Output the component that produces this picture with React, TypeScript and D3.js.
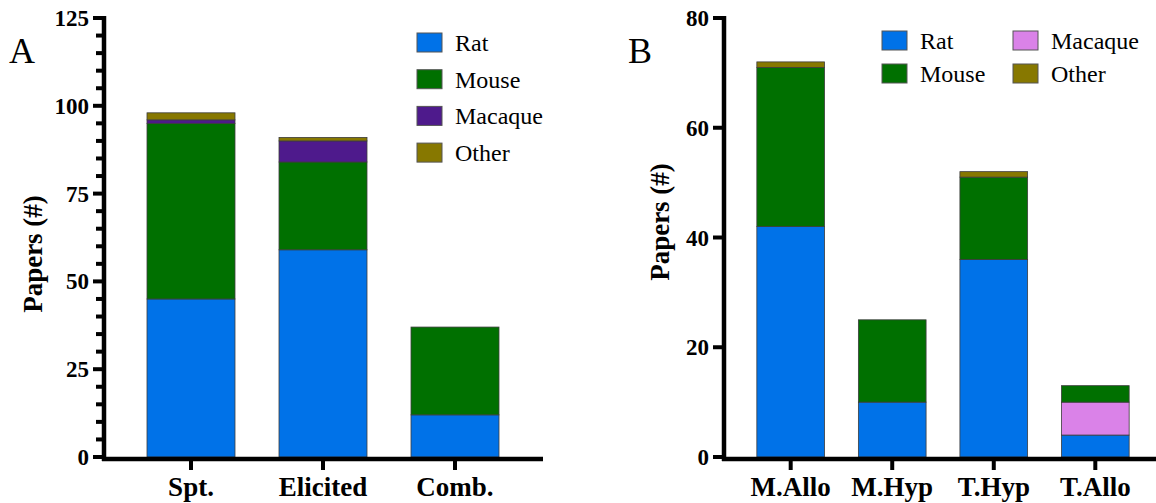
import React from 'react';
import * as d3 from 'd3';

// species order used for stacking (A and B stack differently)
const keysA = ['Rat', 'Mouse', 'Macaque', 'Other'];
const keysB = ['Rat', 'Macaque', 'Mouse', 'Other'];

const categoriesA = ['Spt.', 'Elicited', 'Comb.'];
const ratA = [45, 59, 12];
const mouseA = [50, 25, 25];
const macaqueA = [1, 6, 0];
const otherA = [2, 1, 0];
const ticksA = [0, 25, 50, 75, 100, 125];

const categoriesB = ['M.Allo', 'M.Hyp', 'T.Hyp', 'T.Allo'];
const ratB = [42, 10, 36, 4];
const mouseB = [29, 15, 15, 3];
const macaqueB = [0, 0, 0, 6];
const otherB = [1, 0, 1, 0];
const ticksB = [0, 20, 40, 60, 80];

const yTitle = 'Papers\u00A0(#)';

const SERIF = 'Liberation Serif';

const buildRows = (cats, rat, mouse, macaque, other) =>
  cats.map((c, i) => ({ cat: c, Rat: rat[i], Mouse: mouse[i], Macaque: macaque[i], Other: other[i] }));

const Panel = ({ rows, keys, colors, ticks, minorStep, yMax, xRange, letter, letterX, titleX, titleY, legend }) => {
  const y = d3.scaleLinear().domain([0, yMax]).range([457, 18]);
  const x = d3.scaleBand().domain(rows.map(r => r.cat)).range(xRange).padding(1 / 3);
  const series = d3.stack().keys(keys)(rows);
  const axisX = xRange[0] + 1;
  const minor = minorStep ? d3.range(0, yMax + 0.001, minorStep).filter(v => !ticks.includes(v)) : [];

  return (
    <g>
      <text x={letterX} y={63} fontFamily={SERIF} fontSize={36}>{letter}</text>

      {/* text first, marks after */}
      {ticks.map(t => (
        <text key={'l' + t} x={axisX - 15} y={y(t) + 8} textAnchor="end" fontFamily={SERIF} fontWeight="bold" fontSize={23}>{String(t)}</text>
      ))}
      {rows.map(r => (
        <text key={'c' + r.cat} x={x(r.cat) + x.bandwidth() / 2} y={496} textAnchor="middle" fontFamily={SERIF} fontWeight="bold" fontSize={27}>{r.cat}</text>
      ))}
      <text
        transform={`translate(${titleX},${titleY}) rotate(-90)`}
        textAnchor="middle"
        fontFamily={SERIF}
        fontWeight="bold"
        fontSize={27}
      >
        {yTitle}
      </text>
      {legend.map(l => (
        <text key={'t' + l.key} x={l.x + 38} y={l.y + 18} fontFamily={SERIF} fontSize={24}>{l.key}</text>
      ))}

      {series.map(s => (
        <g key={s.key} fill={colors[s.key]}>
          {s.filter(d => d[1] - d[0] > 0).map(d => (
            <rect
              key={d.data.cat}
              x={x(d.data.cat)}
              y={y(d[1])}
              width={x.bandwidth()}
              height={y(d[0]) - y(d[1])}
              stroke="#3c3c3c"
              strokeWidth={0.8}
            />
          ))}
        </g>
      ))}

      {/* y axis */}
      <line x1={axisX} x2={axisX} y1={y(yMax) - 2} y2={y(0) + 4} stroke="#000" strokeWidth={4.5} />
      {ticks.map(t => (
        <line key={t} x1={axisX - 11} x2={axisX} y1={y(t)} y2={y(t)} stroke="#000" strokeWidth={4} />
      ))}
      {minor.map(t => (
        <line key={'m' + t} x1={axisX - 8} x2={axisX} y1={y(t)} y2={y(t)} stroke="#000" strokeWidth={4} />
      ))}

      {/* x axis */}
      <line x1={axisX - 2} x2={xRange[1]} y1={y(0) + 2} y2={y(0) + 2} stroke="#000" strokeWidth={4.5} />
      {rows.map(r => {
        const cx = x(r.cat) + x.bandwidth() / 2;
        return <line key={r.cat} x1={cx} x2={cx} y1={y(0) + 2} y2={y(0) + 13} stroke="#000" strokeWidth={4} />;
      })}

      {legend.map(l => (
        <rect key={l.key} x={l.x} y={l.y} width={25} height={19} fill={colors[l.key]} stroke="#555" strokeWidth={1} />
      ))}
    </g>
  );
};

const App = () => {
  const rowsA = buildRows(categoriesA, ratA, mouseA, macaqueA, otherA);
  const rowsB = buildRows(categoriesB, ratB, mouseB, macaqueB, otherB);

  const colorsA = { Rat: '#0072E8', Mouse: '#007000', Macaque: '#4E1A8C', Other: '#877800' };
  const colorsB = { Rat: '#0072E8', Mouse: '#007000', Macaque: '#DA82E8', Other: '#877800' };

  const legendA = keysA.map((k, i) => ({ key: k, x: 417, y: 33 + i * 36.7 }));
  const legendB = [
    { key: 'Rat', x: 882, y: 31 },
    { key: 'Mouse', x: 882, y: 64 },
    { key: 'Macaque', x: 1013, y: 31 },
    { key: 'Other', x: 1013, y: 64 },
  ];

  return (
    <svg width={1156} height={503} style={{ position: 'absolute', left: 0, top: 0, background: '#fff', fontFamily: SERIF }}>
      <Panel
        rows={rowsA}
        keys={keysA}
        colors={colorsA}
        ticks={ticksA}
        minorStep={5}
        yMax={125}
        xRange={[103, 543]}
        letter="A"
        letterX={9}
        titleX={42}
        titleY={254}
        legend={legendA}
      />
      <Panel
        rows={rowsB}
        keys={keysB}
        colors={colorsB}
        ticks={ticksB}
        minorStep={0}
        yMax={80}
        xRange={[723, 1163]}
        letter="B"
        letterX={628}
        titleX={669}
        titleY={222}
        legend={legendB}
      />
    </svg>
  );
};

export default App;
